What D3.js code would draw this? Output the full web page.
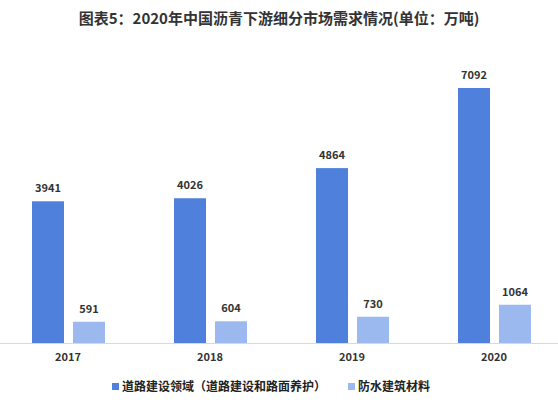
<!DOCTYPE html><html><head><meta charset="utf-8"><script src="https://d3js.org/d3.v7.min.js"></script>
<style>body{margin:0;background:#fff}</style></head><body><svg width="558" height="407"></svg><script>
const years=["2017","2018","2019","2020"];
const road=[3941,4026,4864,7092];
const water=[591,604,730,1064];
const seriesNames=["道路建设领域（道路建设和路面养护）","防水建筑材料"];
const colors=["#4f80dc","#9bb8ef"];
const svg=d3.select("svg");
const f="'Noto Sans CJK SC',sans-serif";
svg.append("text").attr("x",279).attr("y",24).attr("text-anchor","middle").attr("font-family",f).attr("font-weight","bold").attr("font-size",15).attr("fill","#333").text("图表5：2020年中国沥青下游细分市场需求情况(单位：万吨)");
const x=d3.scaleBand().domain(years).range([-3,565]);
const y=d3.scaleLinear().domain([0,7092]).range([343,88]);
const g=svg.append("g");
years.forEach((yr,i)=>{
 const c=x(yr)+x.bandwidth()/2;
 [[road[i],c-36,0],[water[i],c+5,1]].forEach(([v,x0,k])=>{
  g.append("rect").attr("x",x0).attr("width",32).attr("y",y(v)).attr("height",343-y(v)).attr("fill",colors[k]);
  g.append("text").attr("x",x0+16).attr("y",y(v)-9).attr("text-anchor","middle").attr("font-family",f).attr("font-weight","bold").attr("font-size",11).attr("fill","#333").text(v);
 });
});
svg.append("line").attr("x1",0).attr("x2",558).attr("y1",343.5).attr("y2",343.5).attr("stroke","#d9d9d9");
const ax=svg.append("g").attr("transform","translate(0,343)").call(d3.axisBottom(x).tickSize(0).tickPadding(10));
ax.select(".domain").remove();
ax.selectAll("text").attr("font-family",f).attr("font-weight","bold").attr("font-size",11).attr("fill","#333");
const lg=svg.append("g");
[[112,0],[348,1]].forEach(([lx,k])=>{
 lg.append("rect").attr("x",lx).attr("y",383).attr("width",7).attr("height",7).attr("fill",colors[k]);
 lg.append("text").attr("x",lx+10).attr("y",391).attr("font-family",f).attr("font-size",12).attr("font-weight","bold").attr("fill","#222").text(seriesNames[k]);
});
</script></body></html>
